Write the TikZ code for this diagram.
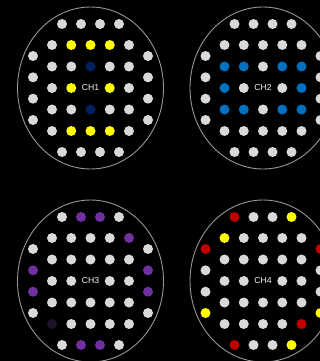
\documentclass[tikz,border=0pt]{standalone}
\usepackage{fontspec}
\setmainfont{Liberation Sans}
\usetikzlibrary{shapes.geometric}
\definecolor{wh}{RGB}{217,217,217}
\definecolor{yl}{RGB}{255,255,0}
\definecolor{nv}{RGB}{0,32,96}
\definecolor{bl}{RGB}{0,112,192}
\definecolor{pu}{RGB}{112,48,160}
\definecolor{rd}{RGB}{192,0,0}
\definecolor{dk}{RGB}{30,18,38}
\definecolor{ringc}{RGB}{150,150,150}
\definecolor{labc}{RGB}{240,240,240}
\tikzset{
  eldot/.style={circle,minimum size=10pt,inner sep=0pt,draw=none},
  ring/.style={ellipse,draw=ringc,line width=0.9pt,minimum width=146pt,minimum height=162pt,inner sep=0pt},
  lab/.style={text=labc,font=\fontsize{8.7pt}{9pt}\selectfont,inner sep=0pt}
}
\newcommand\drow[3]{\foreach \x/\c [count=\i] in {#3} \node[eldot,fill=\c] (#1\i) at (\x,#2) {};}
\newcommand\ocol[3]{\foreach \y/\c [count=\i] in {#3} \node[eldot,fill=\c] (#1\i) at (#2,\y) {};}
\begin{document}
\begin{tikzpicture}[x=1pt,y=-1pt]
\fill[black] (0,0) rectangle (320,361);
\useasboundingbox (0,0) rectangle (320,361);
\clip (0,0) rectangle (320,361);
% CH1
\begin{scope}[shift={(90.5,88)}]
\node[ring] (e1) at (0,0) {};
\drow{a1r1}{-64}{-28.5/wh,-9.5/wh,9.5/wh,28.5/wh}
\drow{a1r2}{-43}{-38.5/wh,-19.25/yl,0/yl,19.25/yl,38.5/wh}
\drow{a1r3}{-21.5}{-38.5/wh,-19.25/wh,0/nv,19.25/wh,38.5/wh}
\drow{a1r4}{0}{-38.5/wh,-19.25/yl,19.25/yl,38.5/wh}
\drow{a1r5}{21.5}{-38.5/wh,-19.25/wh,0/nv,19.25/wh,38.5/wh}
\drow{a1r6}{43}{-38.5/wh,-19.25/yl,0/yl,19.25/yl,38.5/wh}
\drow{a1r7}{64}{-28.5/wh,-9.5/wh,9.5/wh,28.5/wh}
\ocol{a1L}{-57.5}{-32/wh,-10.7/wh,10.7/wh,32/wh}
\ocol{a1R}{57.5}{-32/wh,-10.7/wh,10.7/wh,32/wh}
\node[lab] (l1) at (0,0) {CH1};
\end{scope}
% CH2
\begin{scope}[shift={(263,88)}]
\node[ring] (e2) at (0,0) {};
\drow{a2r1}{-64}{-28.5/wh,-9.5/wh,9.5/wh,28.5/wh}
\drow{a2r2}{-43}{-38.5/wh,-19.25/wh,0/wh,19.25/wh,38.5/wh}
\drow{a2r3}{-21.5}{-38.5/bl,-19.25/bl,0/wh,19.25/bl,38.5/bl}
\drow{a2r4}{0}{-38.5/bl,-19.25/wh,19.25/wh,38.5/bl}
\drow{a2r5}{21.5}{-38.5/bl,-19.25/bl,0/wh,19.25/bl,38.5/bl}
\drow{a2r6}{43}{-38.5/wh,-19.25/wh,0/wh,19.25/wh,38.5/wh}
\drow{a2r7}{64}{-28.5/wh,-9.5/wh,9.5/wh,28.5/wh}
\ocol{a2L}{-57.5}{-32/wh,-10.7/wh,10.7/wh,32/wh}
\ocol{a2R}{57.5}{-32/wh,-10.7/wh,10.7/wh,32/wh}
\node[lab] (l2) at (0,0) {CH2};
\end{scope}
% CH3
\begin{scope}[shift={(90.5,281)}]
\node[ring] (e3) at (0,0) {};
\drow{a3r1}{-64}{-28.5/wh,-9.5/pu,9.5/pu,28.5/wh}
\drow{a3r2}{-43}{-38.5/wh,-19.25/wh,0/wh,19.25/wh,38.5/pu}
\drow{a3r3}{-21.5}{-38.5/wh,-19.25/wh,0/wh,19.25/wh,38.5/wh}
\drow{a3r4}{0}{-38.5/wh,-19.25/wh,19.25/wh,38.5/wh}
\drow{a3r5}{21.5}{-38.5/wh,-19.25/wh,0/wh,19.25/wh,38.5/wh}
\drow{a3r6}{43}{-38.5/dk,-19.25/wh,0/wh,19.25/wh,38.5/wh}
\drow{a3r7}{64}{-28.5/wh,-9.5/pu,9.5/pu,28.5/wh}
\ocol{a3L}{-57.5}{-32/wh,-10.7/pu,10.7/pu,32/wh}
\ocol{a3R}{57.5}{-32/wh,-10.7/pu,10.7/pu,32/wh}
\node[lab] (l3) at (0,0) {CH3};
\end{scope}
% CH4
\begin{scope}[shift={(263,281)}]
\node[ring] (e4) at (0,0) {};
\drow{a4r1}{-64}{-28.5/rd,-9.5/wh,9.5/wh,28.5/yl}
\drow{a4r2}{-43}{-38.5/yl,-19.25/wh,0/wh,19.25/wh,38.5/wh}
\drow{a4r3}{-21.5}{-38.5/wh,-19.25/wh,0/wh,19.25/wh,38.5/wh}
\drow{a4r4}{0}{-38.5/wh,-19.25/wh,19.25/wh,38.5/wh}
\drow{a4r5}{21.5}{-38.5/wh,-19.25/wh,0/wh,19.25/wh,38.5/wh}
\drow{a4r6}{43}{-38.5/wh,-19.25/wh,0/wh,19.25/wh,38.5/rd}
\drow{a4r7}{64}{-28.5/rd,-9.5/wh,9.5/wh,28.5/yl}
\ocol{a4L}{-57.5}{-32/rd,-10.7/wh,10.7/wh,32/yl}
\ocol{a4R}{57.5}{-32/rd,-10.7/wh,10.7/wh,32/yl}
\node[lab] (l4) at (0,0) {CH4};
\end{scope}
\end{tikzpicture}
\end{document}
